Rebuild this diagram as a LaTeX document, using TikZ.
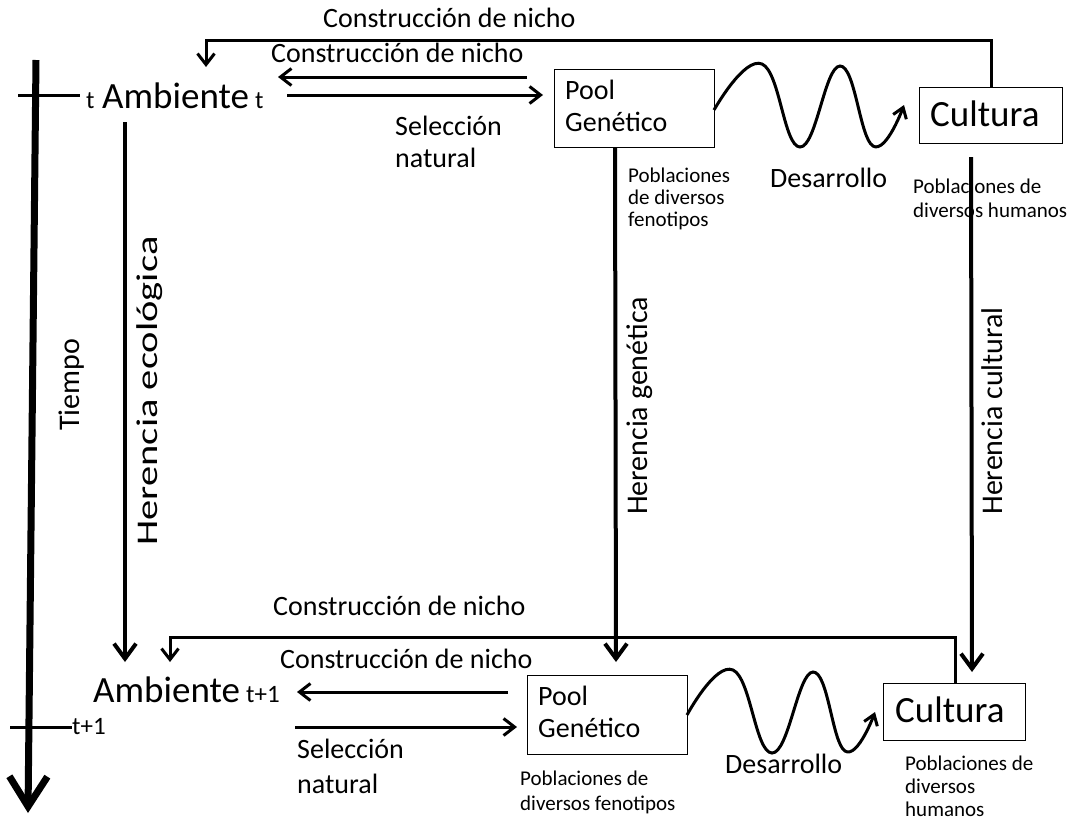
\documentclass[tikz,border=0pt]{standalone}
\usepackage{fontspec}
\setmainfont{Carlito}
\usetikzlibrary{arrows.meta}
\newcommand{\fsz}[2]{\fontsize{#1}{#2}\selectfont}
\begin{document}
\begin{tikzpicture}[x=1pt,y=-1pt,
  lbl/.style={anchor=base west,inner sep=0pt,align=left},
  big/.style={font=\fsz{37}{40}},
  mid/.style={font=\fsz{28}{32}},
  vlab/.style={font=\fsz{30}{32},rotate=90,inner sep=0pt},
  sml/.style={font=\fsz{21}{22}},
  sub/.style={font=\fsz{25}{28}},
  box/.style={draw,line width=1.2pt,inner sep=0pt,anchor=north west},
  arr/.style={line width=3pt,-{Straight Barb[length=11pt,width=17pt]}},
  varr/.style={line width=4pt,-{Straight Barb[length=15pt,width=22pt]}},
  wave/.style={line width=3pt,-{Straight Barb[length=10pt,width=14pt]}}]
\useasboundingbox (0,0) rectangle (1078,825);
\fill[white] (0,0) rectangle (1078,825);

% time axis
\coordinate (ttop) at (36,60);
\coordinate (tbot) at (28,813);
\draw[line width=7pt,-{Straight Barb[length=30pt,width=38pt]}] (ttop) -- (tbot);
\coordinate (tick1a) at (18,95); \coordinate (tick1b) at (80,95);
\draw[line width=3pt] (tick1a) -- (tick1b);
\coordinate (tick2a) at (10,727); \coordinate (tick2b) at (72,727);
\draw[line width=3pt] (tick2a) -- (tick2b);
\node[lbl,sub] (tlab1) at (86,108) {t};
\node[lbl,sub] (tlab2) at (72,734) {t+1};
\node[vlab] (tiempo) at (72,385) {Tiempo};

% top row
\node[lbl,big] (amb1) at (102,108) {Ambiente\,{\fsz{25}{28}t}};
\node[box,minimum width=160pt,minimum height=78pt] (pool1) at (554,69) {};
\node[lbl,mid] (pool1t) at (565,131) {Pool\\Genético};
\node[box,minimum width=143pt,minimum height=56pt] (cult1) at (919,87) {};
\node[lbl,big] (cult1t) at (930,126) {Cultura};

\node[lbl,mid] (cn1) at (323,27) {Construcción de nicho};
\node[lbl,mid] (cn2) at (271,62) {Construcción de nicho};
\node[lbl,mid] (sel1) at (395,167) {Selección\\natural};
\node[lbl,sml] (pob1) at (628,226) {Poblaciones\\de diversos\\fenotipos};
\node[lbl,mid] (des1) at (770,187) {Desarrollo};
\node[lbl,font=\fsz{21}{24}] (pobc1) at (913,217) {Poblaciones de\\diversos humanos};

\coordinate (c1top) at (991,87);
\coordinate (n1) at (206,40);
\coordinate (n1tip) at (206,67);
\draw[arr] (c1top) |- (n1) -- (n1tip);
\coordinate (cn2s) at (527,77); \coordinate (cn2e) at (278,77);
\draw[arr] (cn2s) -- (cn2e);
\coordinate (sel1s) at (287,95); \coordinate (sel1e) at (543,95);
\draw[arr] (sel1s) -- (sel1e);

\draw[wave] plot[smooth,tension=0.75] coordinates {(714,110) (762,64) (800,147) (840,66) (873,146) (904,105)};

% bottom row
\node[lbl,big] (amb2) at (93,702) {Ambiente\,{\fsz{25}{28}t+1}};
\node[box,minimum width=160pt,minimum height=79pt] (pool2) at (527,675) {};
\node[lbl,mid] (pool2t) at (538,737) {Pool\\Genético};
\node[box,minimum width=142pt,minimum height=57pt] (cult2) at (883,683) {};
\node[lbl,big] (cult2t) at (895,722) {Cultura};

\node[lbl,mid] (cn3) at (273,615) {Construcción de nicho};
\node[lbl,mid] (cn4) at (280,668) {Construcción de nicho};
\node[lbl,font=\fsz{28}{35}] (sel2) at (297,793) {Selección\\natural};
\node[lbl,font=\fsz{21}{25}] (pob2) at (520,810) {Poblaciones de\\diversos fenotipos};
\node[lbl,mid] (des2) at (725,773) {Desarrollo};
\node[lbl,font=\fsz{21}{23}] (pobc2) at (905,816) {Poblaciones de\\diversos\\humanos};

\coordinate (c2top) at (955,683);
\coordinate (n2) at (170,637);
\coordinate (n2tip) at (170,662);
\draw[arr] (c2top) |- (n2) -- (n2tip);
\coordinate (cn4s) at (508,692); \coordinate (cn4e) at (297,692);
\draw[arr] (cn4s) -- (cn4e);
\coordinate (sel2s) at (295,727); \coordinate (sel2e) at (517,727);
\draw[arr] (sel2s) -- (sel2e);

\draw[wave] plot[smooth,tension=0.75] coordinates {(687,715) (733,670) (772,753) (813,672) (845,751) (875,712)};

% inheritance arrows
\coordinate (eco1) at (125,122); \coordinate (eco2) at (125,662);
\draw[varr] (eco1) -- (eco2);
\node[vlab,xscale=1.35] (heco) at (150,391) {Herencia ecológica};
\coordinate (gen1) at (615,147); \coordinate (gen2) at (616,662);
\draw[varr] (gen1) -- (gen2);
\node[vlab] (hgen) at (640,406) {Herencia genética};
\coordinate (cul1) at (971,157); \coordinate (cul2) at (972,672);
\draw[varr] (cul1) -- (cul2);
\node[vlab] (hcul) at (992,411) {Herencia cultural};
\end{tikzpicture}
\end{document}
